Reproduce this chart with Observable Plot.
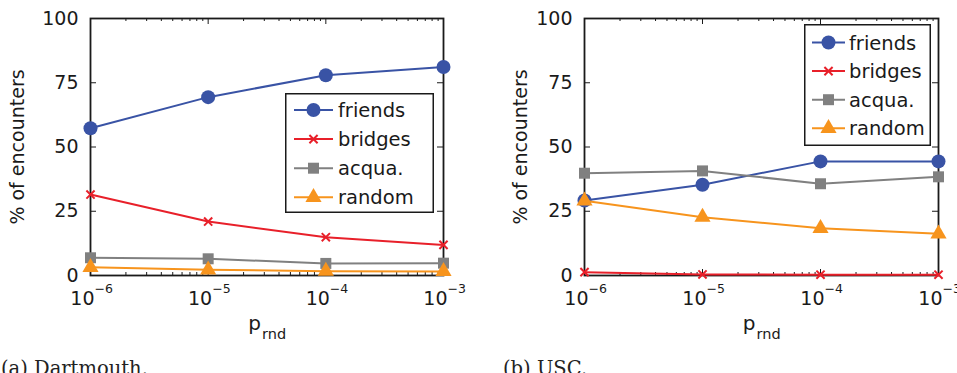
<!DOCTYPE html>
<html>
<head>
<meta charset="utf-8">
<script src="https://cdn.jsdelivr.net/npm/d3@7"></script>
<script src="https://cdn.jsdelivr.net/npm/@observablehq/plot@0.6"></script>
<style>
  body { margin: 0; background: #fff; }
  #fig { position: relative; width: 957px; height: 373px; overflow: hidden; background: #fff; }
  #fig svg { position: absolute; }
</style>
</head>
<body>
<div id="fig"></div>
<script>
// Random-encounter probability on the x axis
const pRnd = [1e-6, 1e-5, 1e-4, 1e-3];
const xTickExponents = ["−6", "−5", "−4", "−3"];
const yTicks = [0, 25, 50, 75, 100];

// Encounter classes
const seriesNames = ["friends", "bridges", "acqua.", "random"];
const seriesColors = ["#3953a5", "#e8202a", "#808080", "#f7941d"];
const seriesSymbols = ["circle", "times", "square", "triangle"];
const seriesRadius = [7, 3.8, 6.2, 6];

// (a) Dartmouth: % of encounters per class
const dartmouthFriends = [57.3, 69.4, 77.9, 81.1];
const dartmouthBridges = [31.5, 21.0, 14.9, 11.9];
const dartmouthAcqua = [6.9, 6.5, 4.7, 4.8];
const dartmouthRandom = [3.2, 2.2, 1.7, 1.6];

// (b) USC: % of encounters per class
const uscFriends = [29.2, 35.3, 44.4, 44.4];
const uscBridges = [1.3, 0.4, 0.3, 0.3];
const uscAcqua = [39.8, 40.7, 35.7, 38.4];
const uscRandom = [29.1, 22.7, 18.4, 16.2];

const yLabel = "% of encounters";
const captions = ["(a) Dartmouth.", "(b) USC."];

const FONT = "'DejaVu Sans', 'Liberation Sans', sans-serif";
const INK = "#1a1a1a";
const d3Symbols = {circle: d3.symbolCircle, times: d3.symbolTimes, square: d3.symbolSquare, triangle: d3.symbolTriangle};

// log-axis minor ticks (2..9 within each decade)
const minorTicks = [];
for (let e = -6; e < -3; e++) for (let k = 2; k <= 9; k++) minorTicks.push(k * 10 ** e);

function panel({values, left, width, marginLeft, marginRight, yLabelDx}) {
  const height = 345, marginTop = 18, marginBottom = 70;
  const frameW = width - marginLeft - marginRight;
  const frameH = height - marginTop - marginBottom;

  const seriesMarks = seriesNames.flatMap((name, s) => {
    const rows = pRnd.map((p, i) => ({p, v: values[s][i]}));
    const isStroke = seriesSymbols[s] === "times";
    return [
      Plot.line(rows, {x: "p", y: "v", stroke: seriesColors[s], strokeWidth: 2}),
      Plot.dot(rows, {
        x: "p", y: "v", symbol: seriesSymbols[s], r: seriesRadius[s],
        fill: isStroke ? "none" : seriesColors[s],
        stroke: isStroke ? seriesColors[s] : "none",
        strokeWidth: isStroke ? 2 : 0
      })
    ];
  });

  const label = {lineAnchor: "middle", fill: INK};

  const plot = Plot.plot({
    width, height, marginTop, marginBottom, marginLeft, marginRight,
    style: {fontFamily: FONT, fontSize: "19px", color: INK, background: "none", overflow: "visible"},
    x: {type: "log", domain: [1e-6, 1e-3], axis: null},
    y: {domain: [0, 100], label: null},
    marks: [
      Plot.frame({stroke: INK, strokeWidth: 1.8}),
      // inward ticks on all four sides
      Plot.tickX(pRnd, {x: d => d, insetTop: frameH - 6, stroke: INK}),
      Plot.tickX(pRnd, {x: d => d, insetBottom: frameH - 6, stroke: INK}),
      Plot.tickX(minorTicks, {x: d => d, insetTop: frameH - 3, stroke: INK}),
      Plot.tickX(minorTicks, {x: d => d, insetBottom: frameH - 3, stroke: INK}),
      Plot.tickY(yTicks, {y: d => d, insetRight: frameW - 6, stroke: INK}),
      Plot.tickY(yTicks, {y: d => d, insetLeft: frameW - 6, stroke: INK}),
      Plot.axisY(yTicks, {tickSize: 0, tickPadding: 12, fontSize: 19, label: null}),
      // 10^k tick labels
      Plot.text(pRnd, {x: d => d, frameAnchor: "bottom", dy: 23, dx: 4, text: () => "10", textAnchor: "end", fontSize: 19, ...label}),
      Plot.text(pRnd, {x: d => d, frameAnchor: "bottom", dy: 13, dx: 4, text: (d, i) => xTickExponents[i], textAnchor: "start", fontSize: 12.5, ...label}),
      // axis titles
      Plot.text(["p"], {frameAnchor: "bottom", dy: 48, dx: -6, text: d => d, textAnchor: "end", fontSize: 20, ...label}),
      Plot.text(["rnd"], {frameAnchor: "bottom", dy: 59, dx: -5, text: d => d, textAnchor: "start", fontSize: 14.5, ...label}),
      Plot.text([yLabel], {frameAnchor: "left", dx: yLabelDx, rotate: -90, text: d => d, textAnchor: "middle", fontSize: 19, ...label}),
      ...seriesMarks
    ]
  });
  plot.style.left = left + "px";
  plot.style.top = "0px";
  return plot;
}

function legend(box) {
  const svg = d3.create("svg")
    .attr("width", box.w).attr("height", box.h)
    .style("left", box.x + "px").style("top", box.y + "px");
  svg.append("rect")
    .attr("x", 0.75).attr("y", 0.75)
    .attr("width", box.w - 1.5).attr("height", box.h - 1.5)
    .attr("fill", "#fff").attr("stroke", INK).attr("stroke-width", 1.5);
  seriesNames.forEach((name, i) => {
    const cy = box.y0 + i * box.step;
    const cx = (box.lx0 + box.lx1) / 2;
    const g = svg.append("g");
    g.append("line")
      .attr("x1", box.lx0).attr("x2", box.lx1).attr("y1", cy).attr("y2", cy)
      .attr("stroke", seriesColors[i]).attr("stroke-width", 2);
    const isStroke = seriesSymbols[i] === "times";
    g.append("path")
      .attr("transform", `translate(${cx},${cy})`)
      .attr("d", d3.symbol(d3Symbols[seriesSymbols[i]], Math.PI * seriesRadius[i] ** 2)())
      .attr("fill", isStroke ? "none" : seriesColors[i])
      .attr("stroke", isStroke ? seriesColors[i] : "none")
      .attr("stroke-width", 2);
    g.append("text")
      .attr("x", box.tx).attr("y", cy).attr("dy", "0.36em")
      .attr("font-family", FONT).attr("font-size", 19.5).attr("fill", INK)
      .text(name);
  });
  return svg.node();
}

const fig = document.getElementById("fig");

fig.append(panel({
  values: [dartmouthFriends, dartmouthBridges, dartmouthAcqua, dartmouthRandom],
  left: 0, width: 478, marginLeft: 90, marginRight: 35, yLabelDx: -73
}));
fig.append(panel({
  values: [uscFriends, uscBridges, uscAcqua, uscRandom],
  left: 478, width: 479, marginLeft: 106, marginRight: 19, yLabelDx: -64
}));

fig.append(legend({x: 285, y: 93, w: 149, h: 120, lx0: 9, lx1: 48, tx: 53, y0: 17, step: 29.1}));
fig.append(legend({x: 804, y: 24, w: 127, h: 122, lx0: 8, lx1: 41, tx: 45, y0: 18.5, step: 28.6}));

// sub-figure captions
const cap = d3.create("svg").attr("width", 957).attr("height", 373).style("left", "0px").style("top", "0px");
cap.selectAll("text").data(captions).join("text")
  .attr("x", (d, i) => i === 0 ? 1 : 503)
  .attr("y", 375)
  .attr("font-family", "'DejaVu Serif', serif")
  .attr("font-size", 19.5)
  .attr("fill", "#222")
  .text(d => d);
fig.append(cap.node());
</script>
</body>
</html>
